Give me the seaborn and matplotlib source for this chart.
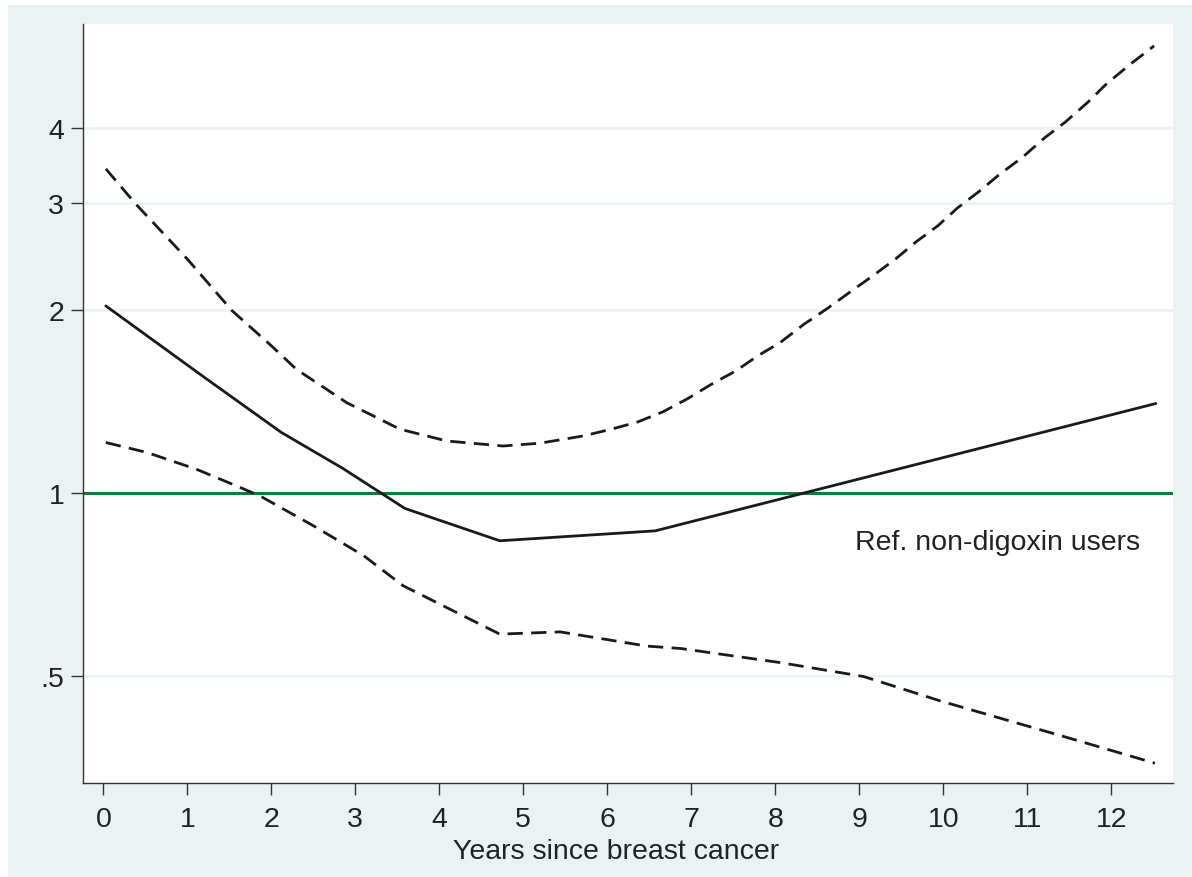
import numpy as np
import pandas as pd
import matplotlib
matplotlib.use("Agg")
import matplotlib.pyplot as plt
from matplotlib.patches import Rectangle
from matplotlib.ticker import FixedLocator, FixedFormatter, NullLocator
import seaborn as sns

# ---- data ----
est_years = [0.03, 1.21, 2.12, 2.85, 3.59, 4.72, 6.57, 12.53]
est_hr = [2.035, 1.55, 1.26, 1.10, 0.945, 0.836, 0.868, 1.406]

upper_years = [0.03, 0.38, 1.0, 1.53, 2.0, 2.30, 2.90, 3.53, 4.09, 4.76, 5.2, 5.72,
               6.05, 6.36, 6.66, 6.96, 7.22, 7.53, 7.79, 8.06, 8.34, 8.63, 8.90,
               9.16, 9.43, 9.67, 9.94, 10.17, 10.44, 10.67, 10.94, 11.21, 11.45,
               11.72, 11.93, 12.20, 12.51]
upper_hr = [3.42, 3.0, 2.43, 2.0, 1.75, 1.60, 1.41, 1.276, 1.22, 1.197, 1.21, 1.244,
            1.276, 1.311, 1.362, 1.433, 1.507, 1.591, 1.684, 1.772, 1.898, 2.02, 2.15,
            2.28, 2.43, 2.59, 2.76, 2.95, 3.15, 3.35, 3.57, 3.85, 4.08,
            4.40, 4.70, 5.05, 5.45]

lower_years = [0.03, 0.52, 1.11, 1.63, 1.87, 2.5, 3.1, 3.57, 4.72, 5.44, 6.47, 6.87,
               8.06, 9.05, 9.96, 11.47, 12.52]
lower_hr = [1.213, 1.168, 1.096, 1.023, 0.99, 0.885, 0.79, 0.705, 0.587, 0.592, 0.561,
            0.556, 0.527, 0.50, 0.456, 0.397, 0.360]

ref_value = 1.0
ref_label = "Ref. non-digoxin users"
x_ticks = list(range(0, 13))
y_ticks = [0.5, 1, 2, 3, 4]
y_tick_labels = [".5", "1", "2", "3", "4"]
x_title = "Years since breast cancer"

# ---- styling ----
sns.set_theme(style="white")
plt.rcParams['font.family'] = ['Liberation Sans', 'DejaVu Sans']

BG = "#eaf2f3"
FS = 20.5

fig = plt.figure(figsize=(11.92, 8.78), dpi=100, facecolor="white")
fig.patches.append(Rectangle((8 / 1192, 0), 1 - 8 / 1192, 1 - 6 / 878,
                             transform=fig.transFigure, facecolor=BG,
                             edgecolor="none", zorder=-10))
ax = fig.add_axes([83 / 1192, (878 - 784) / 878, (1173 - 83) / 1192, (784 - 25) / 878])
ax.set_facecolor("white")

df_est = pd.DataFrame({"years": est_years, "hr": est_hr})
df_up = pd.DataFrame({"years": upper_years, "hr": upper_hr})
df_lo = pd.DataFrame({"years": lower_years, "hr": lower_hr})

dash = (0, (5.5, 3.0))
sns.lineplot(data=df_up, x="years", y="hr", ax=ax, color="#1a1a1a", lw=2.0,
             linestyle=dash, sort=False, zorder=3)
sns.lineplot(data=df_lo, x="years", y="hr", ax=ax, color="#1a1a1a", lw=2.0,
             linestyle=dash, sort=False, zorder=3)
sns.lineplot(data=df_est, x="years", y="hr", ax=ax, color="#1a1a1a", lw=2.0,
             sort=False, zorder=3)
ax.axhline(ref_value, color="#0c7d3c", lw=2.2, zorder=2)

ax.set_yscale("log")
ax.set_xlim(-0.242, 12.735)
ax.set_ylim(0.334, 5.92)

ax.yaxis.set_major_locator(FixedLocator(y_ticks))
ax.yaxis.set_major_formatter(FixedFormatter(y_tick_labels))
ax.yaxis.set_minor_locator(NullLocator())
ax.set_xticks(x_ticks)
ax.set_xticklabels([str(t) for t in x_ticks])

ax.grid(False)
for yv in y_ticks:
    ax.axhline(yv, color=BG, lw=1.8, zorder=1)

for s in ["top", "right"]:
    ax.spines[s].set_visible(False)
for s in ["left", "bottom"]:
    ax.spines[s].set_visible(True)
    ax.spines[s].set_color("#333333")
    ax.spines[s].set_linewidth(1.0)

ax.tick_params(axis="both", which="major", direction="out", length=8.5, width=1.0,
               color="#333333", labelsize=FS, labelcolor="#222222",
               left=True, bottom=True)
ax.tick_params(axis="x", pad=8)
ax.tick_params(axis="y", pad=5)

ax.set_ylabel("")
ax.set_xlabel(x_title, fontsize=FS, color="#222222")
ax.xaxis.set_label_coords((615.6 - 83) / 1090, -0.072)
ax.xaxis.label.set_va("top")

ax.text(8.95, 0.81, ref_label, fontsize=FS, color="#222222",
        ha="left", va="baseline")

fig.savefig("out.png", dpi=100, facecolor=fig.get_facecolor())
